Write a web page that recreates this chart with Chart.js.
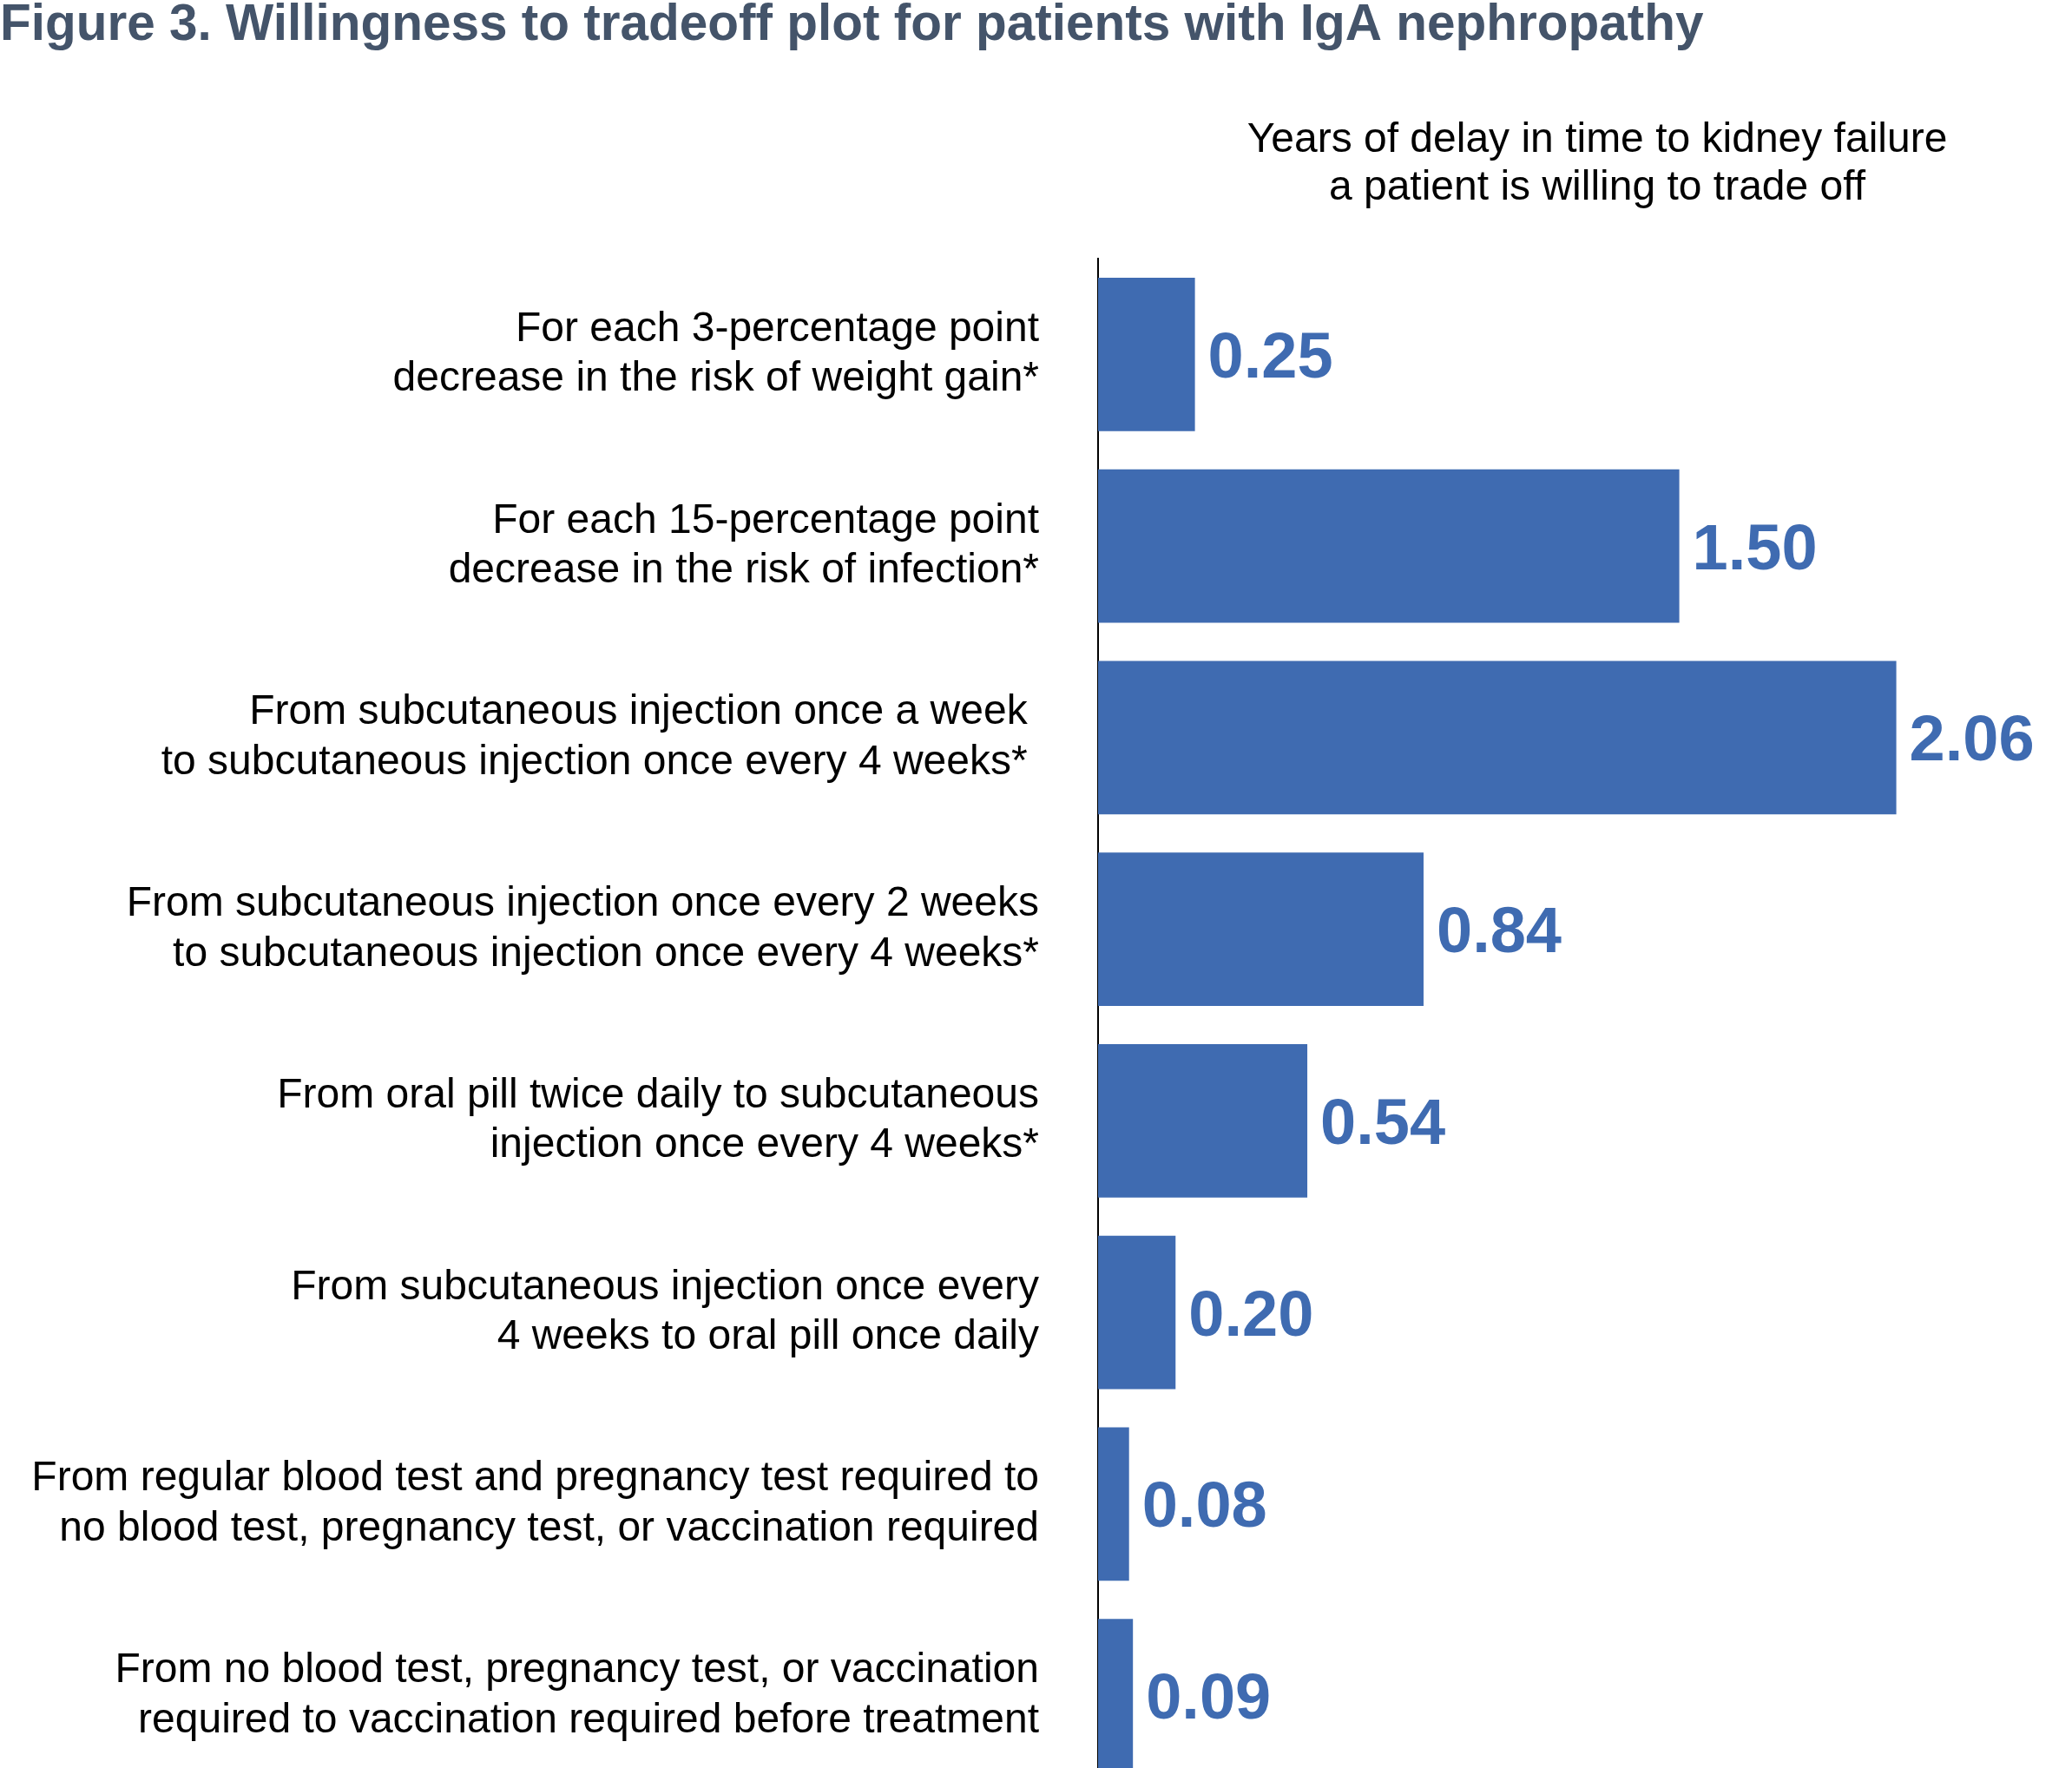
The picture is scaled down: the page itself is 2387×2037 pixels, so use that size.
<!DOCTYPE html>
<html>
<head>
<meta charset="utf-8">
<script src="https://cdn.jsdelivr.net/npm/chart.js@4.4.1/dist/chart.umd.min.js"></script>
<style>
html, body { margin: 0; padding: 0; background: #ffffff; overflow: hidden; }
#c { display: block; }
</style>
</head>
<body>
<canvas id="c" width="2387" height="2064"></canvas>
<script>
const figureTitle = 'Figure 3. Willingness to tradeoff plot for patients with IgA nephropathy';
const axisTitleLines = ['Years of delay in time to kidney failure', 'a patient is willing to trade off'];
const categories = [
  ['For each 3-percentage point', 'decrease in the risk of weight gain*'],
  ['For each 15-percentage point', 'decrease in the risk of infection*'],
  ['From subcutaneous injection once a week ', 'to subcutaneous injection once every 4 weeks* '],
  ['From subcutaneous injection once every 2 weeks', 'to subcutaneous injection once every 4 weeks*'],
  ['From oral pill twice daily to subcutaneous', 'injection once every 4 weeks*'],
  ['From subcutaneous injection once every', '4 weeks to oral pill once daily'],
  ['From regular blood test and pregnancy test required to', 'no blood test, pregnancy test, or vaccination required'],
  ['From no blood test, pregnancy test, or vaccination', 'required to vaccination required before treatment']
];
const values = [0.25, 1.50, 2.06, 0.84, 0.54, 0.20, 0.08, 0.09];

const FONT = '"Liberation Sans", Arial, Helvetica, sans-serif';
const BAR_COLOR = '#3F6BB1';
const TITLE_COLOR = '#44546A';

const textPlugin = {
  id: 'texts',
  afterDatasetsDraw(chart) {
    const ctx = chart.ctx;
    const meta = chart.getDatasetMeta(0);
    ctx.save();
    const fs = 74;
    ctx.font = 'bold ' + fs + 'px ' + FONT;
    ctx.fillStyle = BAR_COLOR;
    ctx.textAlign = 'left';
    ctx.textBaseline = 'alphabetic';
    meta.data.forEach((bar, i) => {
      ctx.fillText(values[i].toFixed(2), bar.x + 15, bar.y + 0.358 * fs);
    });
    ctx.restore();
  },
  afterDraw(chart) {
    const ctx = chart.ctx;
    ctx.save();
    ctx.textBaseline = 'alphabetic';
    ctx.font = 'bold 58.5px ' + FONT;
    ctx.fillStyle = TITLE_COLOR;
    ctx.textAlign = 'left';
    ctx.fillText(figureTitle, 0, 46);
    ctx.font = '48px ' + FONT;
    ctx.fillStyle = '#000000';
    ctx.textAlign = 'center';
    ctx.fillText(axisTitleLines[0], 1840, 175);
    ctx.fillText(axisTitleLines[1], 1840, 230);
    ctx.restore();
  }
};

new Chart(document.getElementById('c'), {
  type: 'bar',
  data: {
    labels: categories,
    datasets: [{
      data: values,
      backgroundColor: BAR_COLOR,
      borderWidth: 0,
      barPercentage: 0.8,
      categoryPercentage: 1.0
    }]
  },
  options: {
    indexAxis: 'y',
    responsive: false,
    devicePixelRatio: 1,
    animation: false,
    layout: { padding: { top: 298, bottom: 0, left: 0, right: 6 } },
    plugins: {
      legend: { display: false },
      title: { display: false },
      tooltip: { enabled: false }
    },
    scales: {
      x: {
        display: false,
        min: 0,
        max: 2.5
      },
      y: {
        z: 1,
        grid: { display: false, drawTicks: false },
        border: { display: true, color: '#000000', width: 2 },
        ticks: {
          color: '#000000',
          padding: 68,
          font: { family: FONT, size: 48, lineHeight: 1.2 }
        },
        afterFit(scale) {
          scale.width = 1265;
          scale.paddingTop = 0;
          scale.paddingBottom = 0;
        }
      }
    }
  },
  plugins: [textPlugin]
});
</script>
</body>
</html>
